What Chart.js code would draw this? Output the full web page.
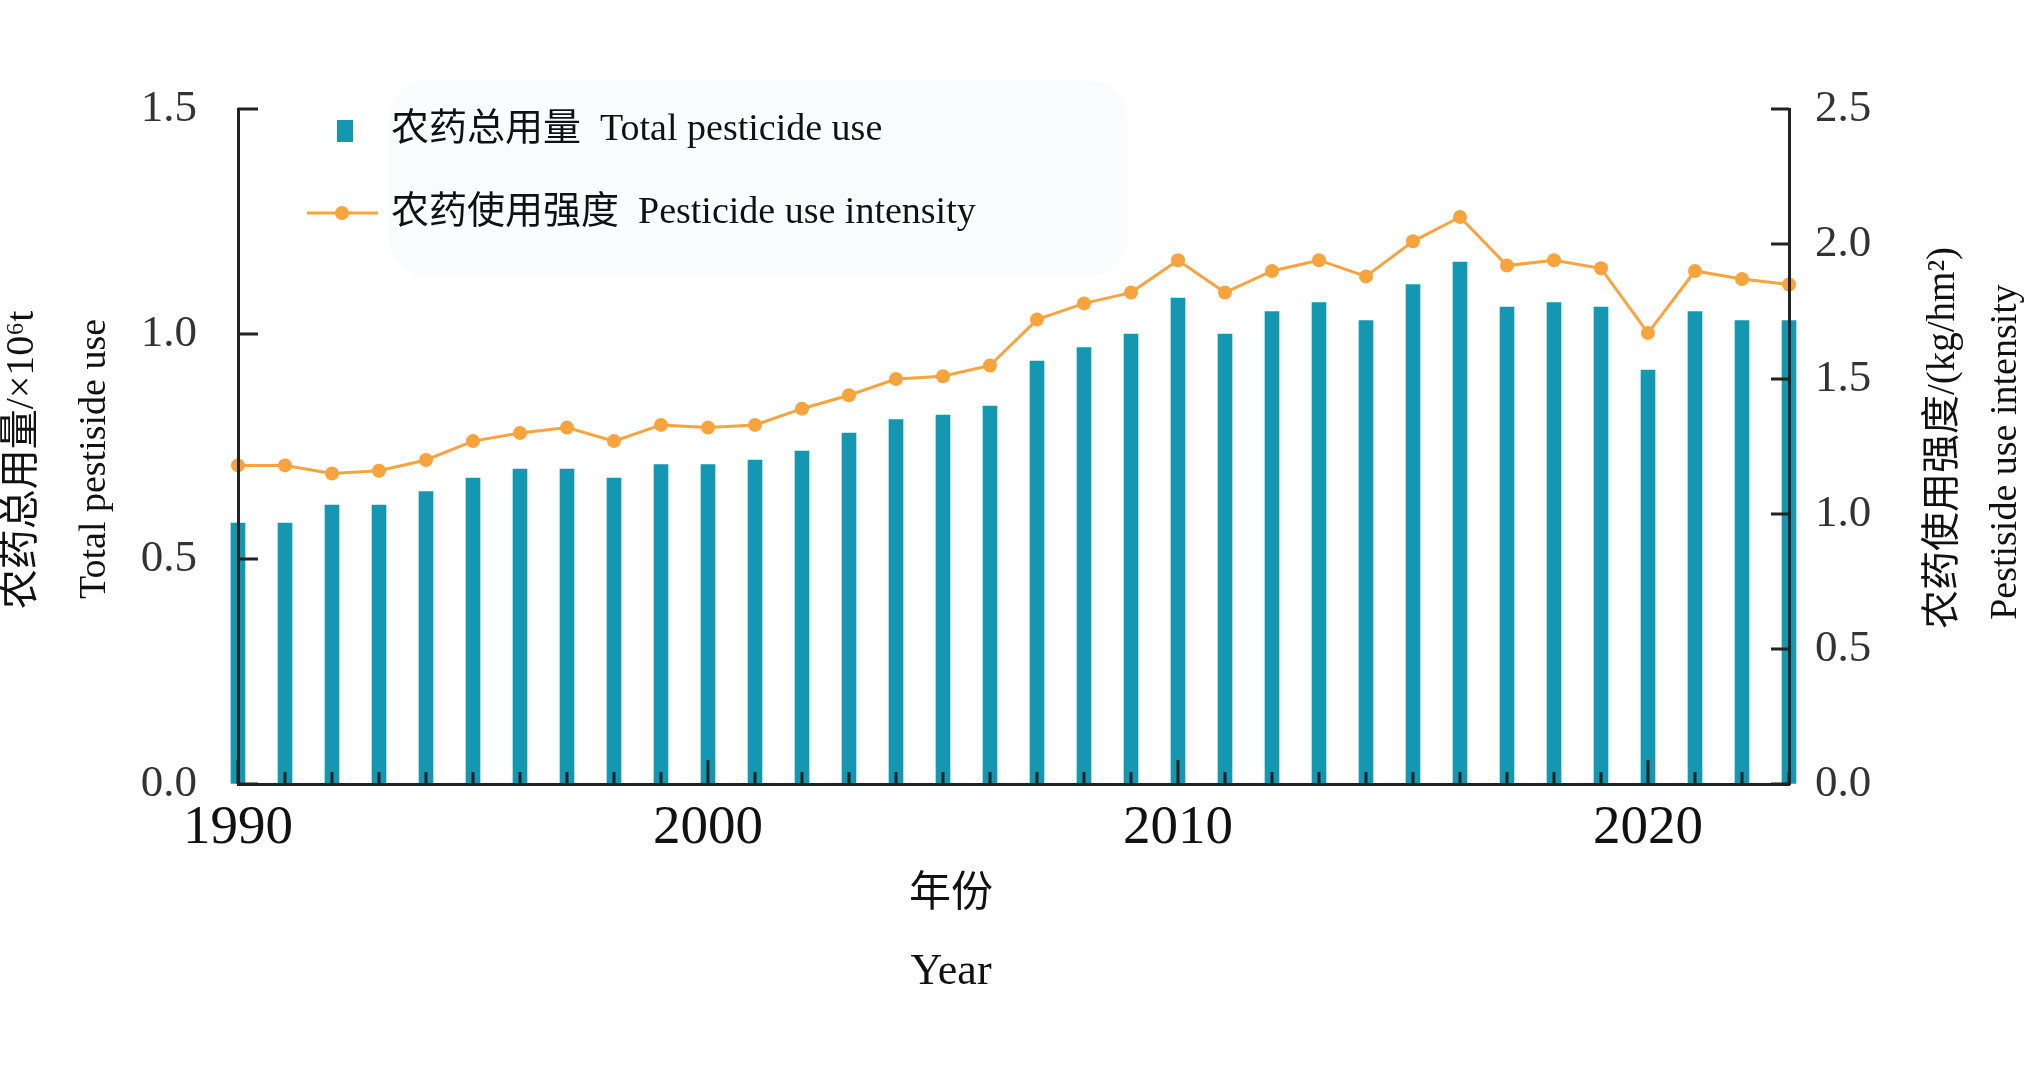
<!DOCTYPE html>
<html>
<head>
<meta charset="utf-8">
<title>Pesticide use</title>
<script src="https://cdn.jsdelivr.net/npm/chart.js@4.4.1/dist/chart.umd.min.js"></script>
<style>
    html, body { margin: 0; padding: 0; background: #fff; }
    #wrap { width: 2030px; height: 1070px; }
</style>
</head>
<body>
<div id="wrap"><canvas id="chartId" width="2030" height="1070"></canvas></div>
<script>
// years on the x axis
const years = [1990, 1991, 1992, 1993, 1994, 1995, 1996, 1997, 1998, 1999,
    2000, 2001, 2002, 2003, 2004, 2005, 2006, 2007, 2008, 2009,
    2010, 2011, 2012, 2013, 2014, 2015, 2016, 2017, 2018, 2019,
    2020, 2021, 2022, 2023];

// 农药总用量, x10^6 t (left axis)
const totalUse = [0.58, 0.58, 0.62, 0.62, 0.65, 0.68, 0.70, 0.70, 0.68, 0.71,
    0.71, 0.72, 0.74, 0.78, 0.81, 0.82, 0.84, 0.94, 0.97, 1.00,
    1.08, 1.00, 1.05, 1.07, 1.03, 1.11, 1.16, 1.06, 1.07, 1.06,
    0.92, 1.05, 1.03, 1.03];

// 农药使用强度, kg/hm2 (right axis)
const useIntensity = [1.18, 1.18, 1.15, 1.16, 1.20, 1.27, 1.30, 1.32, 1.27, 1.33,
    1.32, 1.33, 1.39, 1.44, 1.50, 1.51, 1.55, 1.72, 1.78, 1.82,
    1.94, 1.82, 1.90, 1.94, 1.88, 2.01, 2.10, 1.92, 1.94, 1.91,
    1.67, 1.90, 1.87, 1.85];

// tick labels
const xTickLabels = ['1990', '2000', '2010', '2020'];
const leftTicks = [0, 0.5, 1.0, 1.5];
const rightTicks = [0, 0.5, 1.0, 1.5, 2.0, 2.5];

const serif = '"Liberation Serif", "Noto Sans CJK SC", serif';
const barColor = '#1497b1';
const lineColor = '#f7a43f';

// inward ticks, legend and axis titles
const decor = {
    id: 'decor',
    afterDatasetsDraw(chart) {
        const ctx = chart.ctx;
        const area = chart.chartArea;
        const xs = chart.scales.x, yl = chart.scales.y, yr = chart.scales.y1;
        ctx.save();
        ctx.strokeStyle = '#222';
        ctx.lineWidth = 3;
        ctx.beginPath();
        xs.ticks.forEach(t => {
            const px = xs.getPixelForValue(t.value);
            const len = t.value % 10 === 0 ? 24 : 12;
            ctx.moveTo(px, area.bottom);
            ctx.lineTo(px, area.bottom - len);
        });
        yl.ticks.forEach(t => {
            const py = yl.getPixelForValue(t.value);
            ctx.moveTo(area.left, py);
            ctx.lineTo(area.left + 20, py);
        });
        yr.ticks.forEach(t => {
            const py = yr.getPixelForValue(t.value);
            ctx.moveTo(area.right, py);
            ctx.lineTo(area.right - 18, py);
        });
        ctx.stroke();
        ctx.restore();
    },
    afterDraw(chart) {
        const ctx = chart.ctx;
        const sets = chart.data.datasets;
        ctx.save();

        // legend
        ctx.fillStyle = 'rgba(240,243,247,0.3)';
        ctx.beginPath();
        ctx.roundRect(388, 80, 740, 196, 40);
        ctx.fill();

        ctx.fillStyle = barColor;
        ctx.fillRect(337, 120, 16, 22);

        ctx.strokeStyle = lineColor;
        ctx.lineWidth = 3;
        ctx.beginPath();
        ctx.moveTo(307, 213);
        ctx.lineTo(378, 213);
        ctx.stroke();
        ctx.fillStyle = lineColor;
        ctx.beginPath();
        ctx.arc(342, 213, 7, 0, Math.PI * 2);
        ctx.fill();

        ctx.fillStyle = '#111';
        ctx.font = '38px ' + serif;
        ctx.textAlign = 'left';
        ctx.textBaseline = 'middle';
        ctx.fillText(sets[0].label, 391, 130);
        ctx.fillText(sets[1].label, 391, 213);

        // axis titles
        ctx.textAlign = 'center';
        const vtext = (txt, x, y, size) => {
            ctx.save();
            ctx.translate(x, y);
            ctx.rotate(-Math.PI / 2);
            ctx.font = size + 'px ' + serif;
            ctx.fillText(txt, 0, 0);
            ctx.restore();
        };
        vtext('农药总用量/×10⁶t', 22, 460, 40);
        vtext('Total pestiside use', 95, 459, 38);
        vtext('农药使用强度/(kg/hm²)', 1944, 438, 39);
        vtext('Pestiside use intensity', 2006, 452, 38);

        ctx.font = '42px ' + serif;
        ctx.fillText('年份', 951, 895);
        ctx.font = '44px ' + serif;
        ctx.fillText('Year', 951, 972);
        ctx.restore();
    }
};

const chrt = document.getElementById('chartId').getContext('2d');
const chartId = new Chart(chrt, {
    type: 'bar',
    data: {
        datasets: [{
            label: '农药总用量  Total pesticide use',
            data: years.map((yr, i) => ({ x: yr, y: totalUse[i] })),
            yAxisID: 'y',
            backgroundColor: barColor,
            barThickness: 14,
            clip: false,
            order: 2
        }, {
            type: 'line',
            label: '农药使用强度  Pesticide use intensity',
            data: years.map((yr, i) => ({ x: yr, y: useIntensity[i] })),
            yAxisID: 'y1',
            borderColor: lineColor,
            backgroundColor: lineColor,
            borderWidth: 3,
            pointRadius: 7,
            pointBorderWidth: 0,
            tension: 0,
            clip: false,
            order: 1
        }]
    },
    options: {
        responsive: false,
        animation: false,
        devicePixelRatio: 1,
        layout: { padding: { top: 109, left: 0, right: 0, bottom: 0 } },
        plugins: {
            legend: { display: false },
            tooltip: { enabled: false }
        },
        scales: {
            x: {
                type: 'linear',
                min: 1990,
                max: 2023,
                offset: false,
                grid: { drawOnChartArea: false, drawTicks: false },
                border: { display: true, color: '#222', width: 3, z: 1 },
                ticks: {
                    stepSize: 1,
                    autoSkip: false,
                    maxRotation: 0,
                    padding: 12,
                    color: '#111',
                    font: { family: serif, size: 55 },
                    callback: (v) => xTickLabels.includes(String(v)) ? String(v) : ''
                },
                afterFit: (scale) => { scale.height = 286; }
            },
            y: {
                position: 'left',
                min: leftTicks[0],
                max: leftTicks[leftTicks.length - 1],
                grid: { drawOnChartArea: false, drawTicks: false },
                border: { display: true, color: '#222', width: 3, z: 1 },
                ticks: {
                    stepSize: 0.5,
                    padding: 41,
                    color: '#333',
                    font: { family: serif, size: 45 },
                    callback: (v) => v.toFixed(1)
                },
                afterFit: (scale) => { scale.width = 238; }
            },
            y1: {
                position: 'right',
                min: rightTicks[0],
                max: rightTicks[rightTicks.length - 1],
                grid: { drawOnChartArea: false, drawTicks: false },
                border: { display: true, color: '#222', width: 3, z: 1 },
                ticks: {
                    stepSize: 0.5,
                    padding: 26,
                    color: '#333',
                    font: { family: serif, size: 45 },
                    callback: (v) => v.toFixed(1)
                },
                afterFit: (scale) => { scale.width = 241; }
            }
        }
    },
    plugins: [decor]
});
</script>
</body>
</html>
